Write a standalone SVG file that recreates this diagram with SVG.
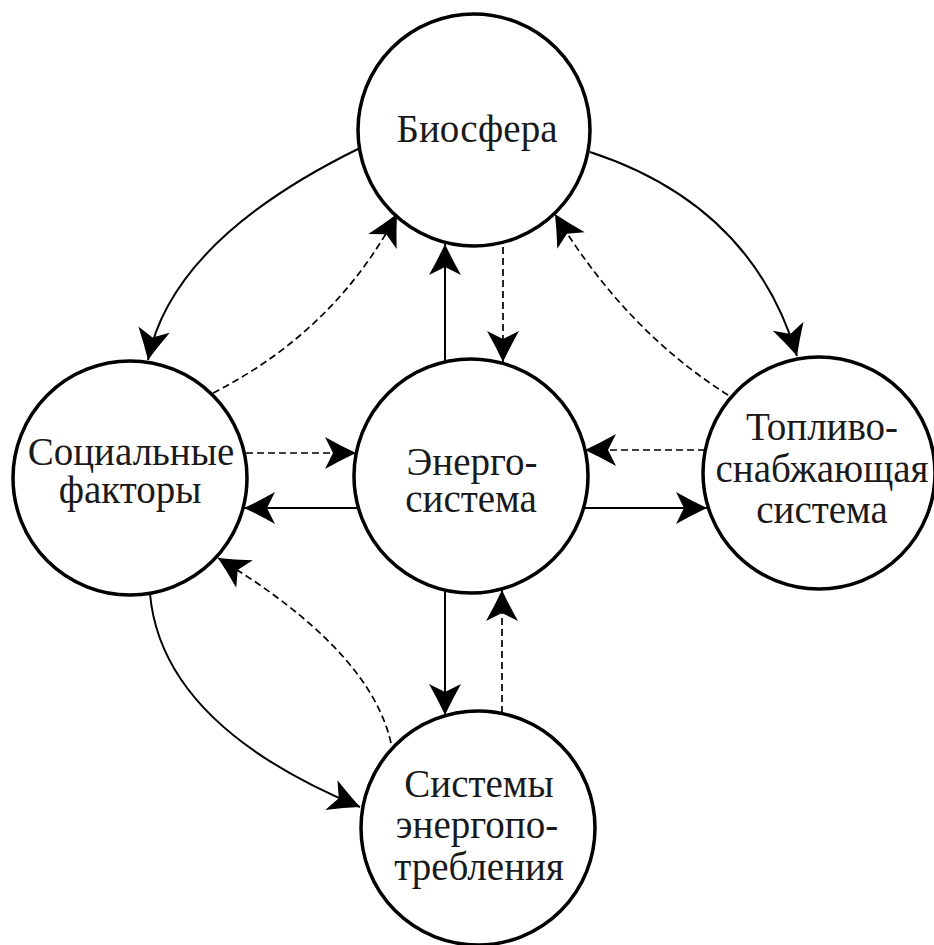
<svg xmlns="http://www.w3.org/2000/svg" width="934" height="945" viewBox="0 0 934 945">
  <style>
    .node { fill: #ffffff; stroke: #000000; stroke-width: 3.5; }
    .lbl { font-family: "Liberation Serif", "Times New Roman", serif; font-size: 39px; fill: #1a1a1a; text-anchor: middle; }
    .solid { fill: none; stroke: #000000; stroke-width: 2; marker-end: url(#arr); }
    .dash { fill: none; stroke: #000000; stroke-width: 1.7; stroke-dasharray: 7 4; marker-end: url(#arr); }
  </style>
  <defs>
    <marker id="arr" markerUnits="userSpaceOnUse" viewBox="-33 -18 35 36" markerWidth="35" markerHeight="36" refX="0" refY="0" orient="auto">
      <path d="M0,0 Q-15,-7 -31,-16 L-23,0 L-31,16 Q-15,7 0,0 Z" fill="#000000"/>
    </marker>
  </defs>
  <rect width="934" height="945" fill="#ffffff"/>

  <g id="connectors">
    <path class="solid" d="M445,362 L445,244"/>
    <path class="dash" d="M503,247 L503,362"/>
    <path class="dash" d="M246,453 L356,453"/>
    <path class="solid" d="M358,508 L244,508"/>
    <path class="dash" d="M705,450 L585,450"/>
    <path class="solid" d="M584,508 L707,508"/>
    <path class="solid" d="M445,590 L445,715"/>
    <path class="dash" d="M502,713 L502,590"/>
    <path class="solid" d="M360,148 Q172,240 148,360"/>
    <path class="dash" d="M213,393 Q335,331 397,214"/>
    <path class="solid" d="M590,152 Q752,205 797,356"/>
    <path class="dash" d="M728,395 Q625,330 555,214"/>
    <path class="dash" d="M391,743 Q370,650 218,558"/>
    <path class="solid" d="M150,594 Q162,725 360,807"/>
  </g>

  <g id="biosfera">
    <circle class="node" cx="474" cy="130" r="116"/>
    <text class="lbl" x="477" y="142">Биосфера</text>
  </g>
  <g id="socialnye">
    <circle class="node" cx="130" cy="478" r="117"/>
    <text class="lbl" x="131" y="465">Социальные</text>
    <text class="lbl" x="130" y="503">факторы</text>
  </g>
  <g id="energosistema">
    <circle class="node" cx="471" cy="476" r="117"/>
    <text class="lbl" x="472" y="475">Энерго-</text>
    <text class="lbl" x="471" y="512">система</text>
  </g>
  <g id="toplivo">
    <circle class="node" cx="819" cy="473" r="116"/>
    <text class="lbl" x="822" y="440">Топливо-</text>
    <text class="lbl" x="822" y="482">снабжающая</text>
    <text class="lbl" x="822" y="523">система</text>
  </g>
  <g id="sistemy">
    <circle class="node" cx="478" cy="828" r="117"/>
    <text class="lbl" x="479" y="797">Системы</text>
    <text class="lbl" x="477" y="838">энергопо-</text>
    <text class="lbl" x="479" y="880">требления</text>
  </g>
</svg>
